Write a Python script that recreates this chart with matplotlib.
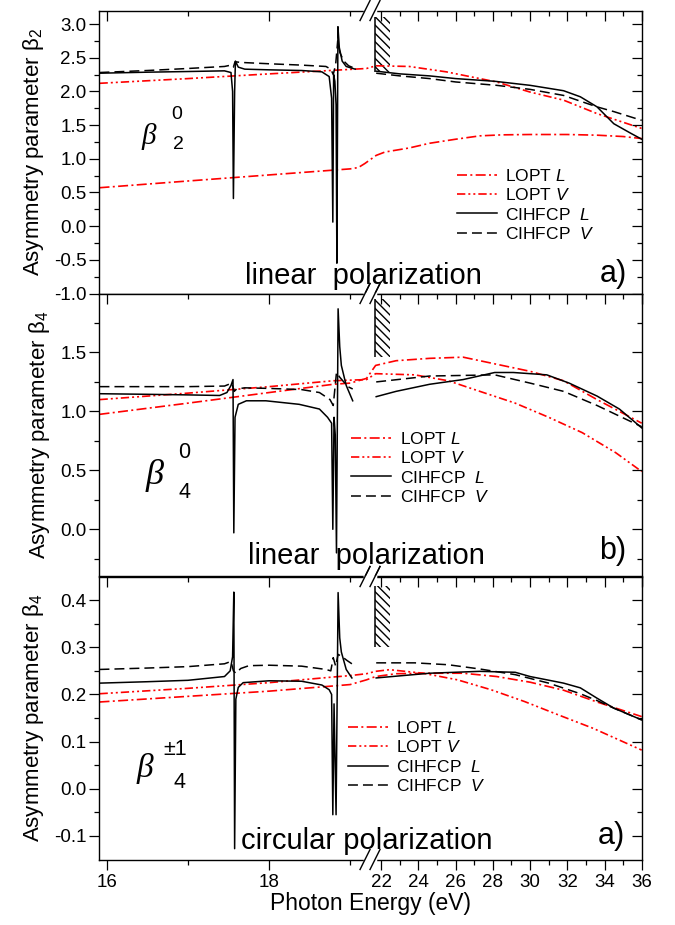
import numpy as np
import matplotlib
matplotlib.use('Agg')
import matplotlib.pyplot as plt
from matplotlib.patches import Rectangle
from matplotlib.ticker import FixedLocator, FormatStrFormatter

plt.rcParams['font.family'] = ['Liberation Sans', 'DejaVu Sans']
plt.rcParams['mathtext.fontset'] = 'custom'
plt.rcParams['mathtext.rm'] = 'Liberation Sans'
plt.rcParams['mathtext.it'] = 'Liberation Sans:italic'
plt.rcParams['axes.unicode_minus'] = False
plt.rcParams['hatch.linewidth'] = 1.0
nan = np.nan

# ---- data (photon energy in eV) ----
# a) beta2, linear polarization
e_b2_lL = [15.91, 17.0, 18.0, 19.0, 19.1, 19.18, 21.73, 22.2, 23.5, 24.6, 26.0, 27.3, 28.5, 30.0, 32.0, 33.6, 35.0, 36.0]
b2_lL = [0.57, 0.67, 0.76, 0.85, 0.87, 0.93, 1.05, 1.10, 1.16, 1.23, 1.29, 1.34, 1.355, 1.36, 1.36, 1.35, 1.33, 1.30]
e_b2_lV = [15.91, 17.0, 18.0, 19.2, 21.72, 23.5, 25.5, 27.3, 28.2, 30.0, 31.8, 33.6, 36.0]
b2_lV = [2.12, 2.19, 2.26, 2.34, 2.38, 2.37, 2.29, 2.19, 2.14, 1.99, 1.87, 1.67, 1.45]
e_b2_cL = [15.91, 16.5, 17.0, 17.45, 17.53, 17.55, 17.56, 17.575, 17.585, 17.62, 17.7, 18.0, 18.4,
           18.65, 18.74, 18.77, 18.785, 18.795, 18.81, 18.825, 18.835, 18.848, 18.865, 18.9, 18.95, 19.06,
           nan, 21.73, 23.0, 24.6, 26.0, 28.1, 30.0, 31.8, 32.7, 33.6, 34.5, 35.4, 36.0]
b2_cL = [2.27, 2.285, 2.295, 2.305, 2.28, 2.0, 0.41, 2.0, 2.45, 2.36, 2.33, 2.32, 2.31,
         2.29, 2.22, 1.9, 0.06, 2.25, 2.15, 1.8, -0.55, 2.96, 2.65, 2.45, 2.37, 2.33,
         nan, 2.30, 2.26, 2.23, 2.19, 2.15, 2.09, 2.01, 1.92, 1.77, 1.52, 1.38, 1.29]
e_b2_cV = [15.91, 16.5, 17.0, 17.45, 17.53, 17.56, 17.58, 17.65, 18.0, 18.4, 18.7, 18.76, 18.79,
           18.82, 18.845, 18.87, 18.92, 18.98, 19.06,
           nan, 21.73, 23.0, 24.6, 26.0, 28.2, 30.0, 31.8, 33.6, 34.5, 36.0]
b2_cV = [2.28, 2.31, 2.34, 2.37, 2.39, 2.36, 2.44, 2.43, 2.41, 2.39, 2.37, 2.33, 2.25,
         2.40, 2.75, 2.58, 2.45, 2.38, 2.34,
         nan, 2.27, 2.23, 2.19, 2.14, 2.09, 2.03, 1.94, 1.77, 1.70, 1.57]

# b) beta4, linear polarization
e_b4_lL = [15.91, 17.0, 18.0, 18.79, 19.0, 19.2, 21.7, 22.8, 24.6, 26.4, 28.2, 30.0, 31.8, 33.6, 36.0]
b4_lL = [0.975, 1.07, 1.16, 1.23, 1.24, 1.28, 1.39, 1.43, 1.45, 1.46, 1.40, 1.34, 1.26, 1.10, 0.90]
e_b4_lV = [15.91, 17.0, 18.0, 18.79, 19.0, 19.2, 21.7, 23.8, 25.6, 27.3, 29.2, 31.0, 32.8, 34.6, 36.0]
b4_lV = [1.10, 1.155, 1.21, 1.26, 1.265, 1.27, 1.32, 1.31, 1.26, 1.17, 1.07, 0.95, 0.82, 0.65, 0.49]
e_b4_cL = [15.91, 16.5, 17.0, 17.39, 17.48, 17.53, 17.555, 17.565, 17.58, 17.62, 17.72, 17.96, 18.37,
           18.62, 18.72, 18.77, 18.785, 18.80, 18.815, 18.83, 18.85, 18.87, 18.89, 18.95, 19.03,
           nan, 21.73, 22.8, 24.6, 26.4, 28.1, 29.1, 30.9, 32.1, 33.6, 34.8, 36.0]
b4_cL = [1.15, 1.145, 1.14, 1.135, 1.16, 1.22, 1.27, -0.03, 0.95, 1.06, 1.09, 1.09, 1.06,
         1.02, 0.95, 0.90, 0.0, 0.95, 0.80, -0.20, 1.87, 1.55, 1.39, 1.22, 1.09,
         nan, 1.125, 1.17, 1.23, 1.27, 1.33, 1.33, 1.31, 1.24, 1.13, 1.02, 0.86]
e_b4_cV = [15.91, 17.0, 17.45, 17.54, 17.57, 17.6, 17.7, 18.0, 18.4, 18.62, 18.75, 18.79, 18.83,
           18.87, 18.92, 18.97, 19.03,
           nan, 21.73, 24.6, 28.1, 30.0, 31.8, 33.6, 36.0]
b4_cV = [1.21, 1.21, 1.215, 1.24, 1.17, 1.19, 1.20, 1.195, 1.185, 1.16, 1.10, 1.05, 1.33,
         1.29, 1.25, 1.21, 1.19,
         nan, 1.25, 1.30, 1.31, 1.24, 1.17, 1.05, 0.87]

# c) beta4, circular polarization
e_c4_lL = [15.91, 17.0, 18.0, 18.79, 19.0, 19.2, 21.7, 22.8, 24.6, 26.4, 28.2, 30.0, 31.8, 33.6, 36.0]
c4_lL = [0.184, 0.196, 0.207, 0.218, 0.221, 0.231, 0.238, 0.244, 0.245, 0.245, 0.238, 0.226, 0.209, 0.184, 0.153]
e_c4_lV = [15.91, 17.0, 18.0, 18.79, 19.0, 19.2, 21.7, 22.45, 24.25, 26.1, 27.9, 29.7, 31.5, 33.4, 36.0]
c4_lV = [0.2015, 0.213, 0.225, 0.237, 0.24, 0.244, 0.249, 0.2525, 0.245, 0.231, 0.21, 0.185, 0.157, 0.128, 0.082]
e_c4_cL = [15.91, 16.5, 17.0, 17.45, 17.52, 17.55, 17.565, 17.575, 17.59, 17.62, 17.68, 18.0, 18.4,
           18.65, 18.74, 18.77, 18.785, 18.80, 18.825, 18.85, 18.87, 18.89, 18.95, 19.02,
           nan, 21.73, 24.6, 27.3, 29.2, 30.0, 31.8, 32.7, 33.6, 34.5, 36.0]
c4_cL = [0.224, 0.227, 0.23, 0.238, 0.25, 0.28, 0.417, -0.127, 0.19, 0.215, 0.225, 0.229, 0.228,
         0.22, 0.21, 0.20, -0.055, 0.18, -0.055, 0.416, 0.32, 0.29, 0.253, 0.235,
         nan, 0.235, 0.245, 0.249, 0.247, 0.238, 0.224, 0.214, 0.192, 0.171, 0.146]
e_c4_cV = [15.91, 16.5, 17.0, 17.45, 17.53, 17.56, 17.59, 17.65, 17.75, 18.0, 18.4, 18.7, 18.76,
           18.79, 18.82, 18.85, 18.9, 18.96, 19.02,
           nan, 21.73, 23.8, 25.6, 27.3, 29.2, 31.0, 32.7, 33.6, 34.5, 36.0]
c4_cV = [0.253, 0.256, 0.259, 0.265, 0.27, 0.25, 0.245, 0.255, 0.261, 0.262, 0.26, 0.253, 0.25,
         0.278, 0.26, 0.285, 0.28, 0.272, 0.265,
         nan, 0.267, 0.267, 0.263, 0.254, 0.242, 0.224, 0.2015, 0.187, 0.171, 0.146]

# threshold (hatched) region
hatch_e = (21.68, 22.45)
hatch_y = [(2.29, 3.1), (1.46, 1.95), (0.30, 0.429)]

x_major = [16, 18, 22, 24, 26, 28, 30, 32, 34, 36]
x_minor = [17, 19, 23, 25, 27, 29, 31, 33, 35]
ylims = [(-1.0, 3.2), (-0.4, 2.0), (-0.15, 0.45)]
y_major = [np.arange(-1.0, 3.01, 0.5), np.arange(0.0, 1.51, 0.5), np.arange(-0.1, 0.41, 0.1)]
y_minor = [np.arange(-0.75, 3.2, 0.5), np.arange(-0.25, 1.8, 0.5), np.arange(-0.05, 0.36, 0.1)]
ylabels = ['Asymmetry parameter β$_2$', 'Asymmetry parameter β$_4$', 'Asymmetry parameter β$_4$']
pol_text = ['linear  polarization', 'linear  polarization', 'circular polarization']
tags = ['a)', 'b)', 'a)']
legend_labels = ['LOPT $L$', 'LOPT $V$', 'CIHFCP  $L$', 'CIHFCP  $V$']

series = [
    [(e_b2_lL, b2_lL), (e_b2_lV, b2_lV), (e_b2_cL, b2_cL), (e_b2_cV, b2_cV)],
    [(e_b4_lL, b4_lL), (e_b4_lV, b4_lV), (e_b4_cL, b4_cL), (e_b4_cV, b4_cV)],
    [(e_c4_lL, c4_lL), (e_c4_lV, c4_lV), (e_c4_cL, c4_cL), (e_c4_cV, c4_cV)],
]

# broken energy axis: 16-19.2 eV stretched, 21.3-36 eV compressed
brk_e = [15.91, 19.20, 21.263, 36.0]
brk_p = [0.0, 267.0, 268.0, 542.2]


def fwd(x):
    return np.interp(x, brk_e, brk_p)


def inv(p):
    return np.interp(p, brk_p, brk_e)


styles = [dict(color='red', lw=1.2, dashes=(6.0, 2.0, 1.2, 2.0)),
          dict(color='red', lw=1.2, dashes=(5.0, 1.8, 1.2, 1.8, 1.2, 1.8)),
          dict(color='black', lw=1.1),
          dict(color='black', lw=1.1, dashes=(6.5, 3.3))]

fig = plt.figure(figsize=(6.75, 9.25), dpi=100)
bottoms = [0.6827, 0.3768, 0.0708]
leg_pos = [(0.6587, 0.3134), (0.4644, 0.384), (0.4576, 0.3628)]
pol_pos = [(0.2675, 0.034), (0.273, 0.045), (0.2614, 0.038)]
tag_pos = [(0.972, 0.039), (0.972, 0.0625), (0.969, 0.056)]
panel_axes = []

for i in range(3):
    ax = fig.add_axes([0.1474, bottoms[i], 0.8033, 0.3059])
    panel_axes.append(ax)
    ax.set_xscale('function', functions=(fwd, inv))
    ax.set_xlim(15.91, 36.0)
    ax.set_ylim(*ylims[i])

    for (e, y), st, lab in zip(series[i], styles, legend_labels):
        ax.plot(e, y, label=lab, **st)

    y0, y1 = hatch_y[i]
    ax.add_patch(Rectangle((hatch_e[0], y0), hatch_e[1] - hatch_e[0], y1 - y0,
                           fill=False, hatch='\\' * 4, edgecolor='black', lw=0))
    ax.vlines(hatch_e[0], y0, y1, color='black', lw=1.1)

    # axes ticks
    ax.xaxis.set_major_locator(FixedLocator(x_major))
    ax.xaxis.set_minor_locator(FixedLocator(x_minor))
    ax.yaxis.set_major_locator(FixedLocator(y_major[i]))
    ax.yaxis.set_minor_locator(FixedLocator(y_minor[i]))
    ax.yaxis.set_major_formatter(FormatStrFormatter('%.1f'))
    ax.tick_params(which='both', direction='out', top=False, right=False, width=0.9, labelsize=13.5)
    ax.tick_params(which='major', length=7.2, pad=2)
    ax.tick_params(which='minor', length=3.6)
    ax.tick_params(axis='x', pad=3)
    if i < 2:
        ax.tick_params(labelbottom=False)
    for sp in ax.spines.values():
        sp.set_linewidth(1.0)

    axt = ax.twiny()
    axt.set_xscale('function', functions=(fwd, inv))
    axt.set_xlim(15.91, 36.0)
    axt.xaxis.set_major_locator(FixedLocator(x_major))
    axt.xaxis.set_minor_locator(FixedLocator(x_minor))
    axt.tick_params(which='both', direction='in', top=True, bottom=False,
                    labeltop=False, labelbottom=False, width=0.9)
    axt.tick_params(which='major', length=7.2)
    axt.tick_params(which='minor', length=3.6)
    axr = ax.twinx()
    axr.set_ylim(*ylims[i])
    axr.yaxis.set_major_locator(FixedLocator(y_major[i]))
    axr.yaxis.set_minor_locator(FixedLocator(y_minor[i]))
    axr.tick_params(which='both', direction='in', right=True, left=False,
                    labelright=False, labelleft=False, width=0.9)
    axr.tick_params(which='major', length=7.2)
    axr.tick_params(which='minor', length=3.6)
    for t in (axt, axr):
        for sp in t.spines.values():
            sp.set_visible(False)

    # break marks on the energy axis
    for yy in (0, 1):
        ax.plot([0.4897, 0.5081], [yy, yy], color='white', lw=2.5,
                transform=ax.transAxes, clip_on=False, zorder=5)
        for xc in (0.4897, 0.5081):
            ax.plot([xc - 0.0092, xc + 0.0092], [yy - 0.0353, yy + 0.0353], color='black',
                    lw=1.0, transform=ax.transAxes, clip_on=False, zorder=6)

    ax.set_ylabel(ylabels[i], fontsize=16, labelpad=6)
    ax.text(*pol_pos[i], pol_text[i], transform=ax.transAxes, fontsize=21,
            ha='left', va='baseline')
    ax.text(*tag_pos[i], tags[i], transform=ax.transAxes, fontsize=22,
            ha='right', va='baseline')
    ax.legend(loc='center left', bbox_to_anchor=leg_pos[i], frameon=False, fontsize=12.5,
              handlelength=2.3, handletextpad=0.5, labelspacing=0.2, borderpad=0,
              borderaxespad=0)

# beta labels
bfont = dict(family='Liberation Serif', style='italic')
beta_spec = [
    (0.077, 0.530, 21, '0', (0.143, 0.615), '2', (0.146, 0.509), 14),
    (0.085, 0.327, 26, '0', (0.157, 0.420), '4', (0.156, 0.276), 15.5),
    (0.068, 0.292, 24, '±1', (0.139, 0.369), '4', (0.148, 0.252), 15.5),
]
for ax, (bx, by, bs, sup, sp_pos, sub, sb_pos, ds) in zip(panel_axes, beta_spec):
    ax.text(bx, by, 'β', transform=ax.transAxes, fontsize=bs, ha='left', va='baseline', **bfont)
    ax.text(*sp_pos, sup, transform=ax.transAxes, fontsize=ds, ha='center', va='baseline')
    ax.text(*sb_pos, sub, transform=ax.transAxes, fontsize=ds, ha='center', va='baseline')

panel_axes[2].set_xlabel('Photon Energy (eV)', fontsize=16.5, labelpad=1)

fig.savefig('out.png', dpi=100)
